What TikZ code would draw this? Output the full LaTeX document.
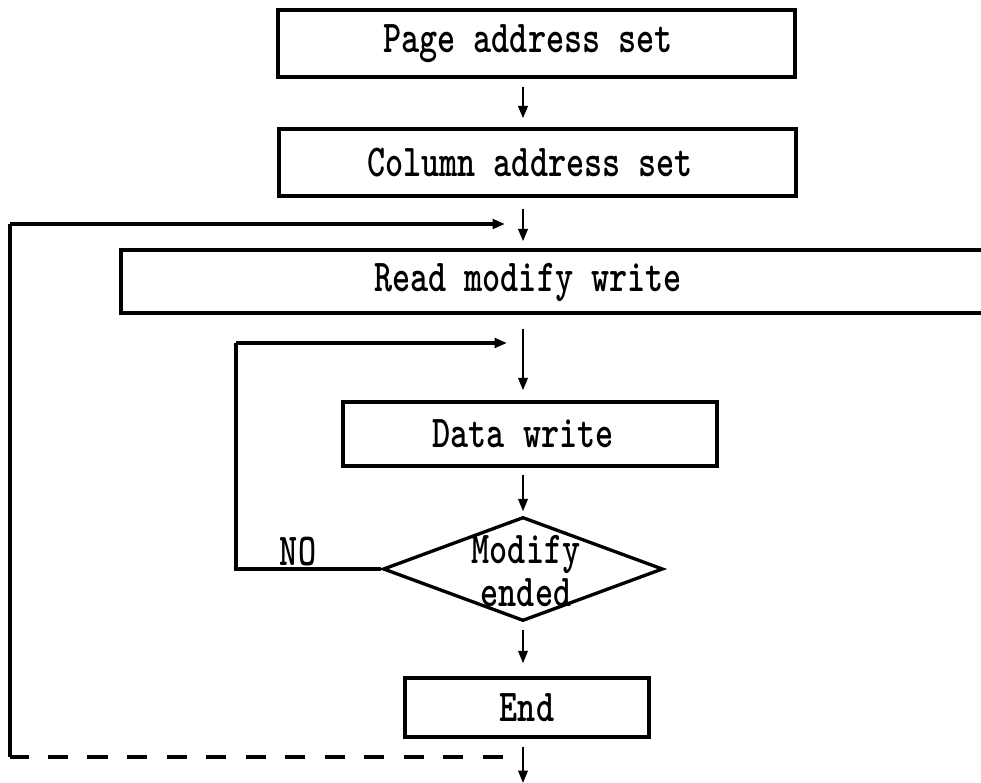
\documentclass[tikz,border=0pt]{standalone}
\usepackage{graphicx}
\usetikzlibrary{shapes.geometric,arrows.meta}

% condensed typewriter lettering used throughout the flowchart
\newcommand\cx[1]{\scalebox{0.755}[1]{#1}}

\tikzset{
  txt/.style={font=\fontsize{26}{24}\selectfont\ttfamily\bfseries, inner sep=0pt},
  box/.style={draw, line width=2pt, rectangle, inner sep=0pt, txt},
  decbox/.style={draw, line width=1.9pt, diamond, inner sep=0pt},
  flow/.style={line width=1.4pt, -{Triangle[length=7pt,width=5.4pt]}},
  thinflow/.style={line width=1.1pt, -{Triangle[length=7pt,width=5.4pt]}},
  loopline/.style={line width=1.8pt},
}

\begin{document}
\begin{tikzpicture}[x=0.02cm, y=-0.02cm]
  \useasboundingbox (0,0) rectangle (981,783);

  % process boxes
  \node[box, minimum width=10.34cm, minimum height=1.34cm] (page) at (536.5,43.5) {};
  \node[txt] (pagetext) at (528,44) {\cx{Page address set}};
  \node[box, minimum width=10.34cm, minimum height=1.34cm] (col) at (537.5,162.5) {};
  \node[txt] (coltext) at (530,163) {\cx{Column address set}};
  \node[box, minimum width=17.58cm, minimum height=1.26cm] (rmw) at (560.5,281.5) {};
  \node[txt] (rmwtext) at (528,282) {\cx{Read modify write}};
  \node[box, minimum width=7.48cm, minimum height=1.28cm] (data) at (530,434) {};
  \node[txt] (datatext) at (523,434) {\cx{Data write}};

  % decision
  \node[decbox, minimum width=5.6cm, minimum height=2.08cm] (dec) at (523,569) {};
  \node[txt, align=center] (dectext) at (526,571) {\cx{Modify}\\\cx{ended}};
  \node[txt] (nolbl) at (298,552) {\cx{NO}};

  \node[box, minimum width=4.88cm, minimum height=1.18cm] (fin) at (527,707.5) {\cx{End}};

  % loop corners and free ends
  \coordinate (outerTop) at (10,224);
  \coordinate (outerBot) at (10,757);
  \coordinate (outerIn) at (505,224);
  \coordinate (dashEnd) at (503,757);
  \coordinate (innerTop) at (236,343);
  \coordinate (innerIn) at (507,343);
  \coordinate (exitEnd) at (523,783);

  % main vertical flow
  \draw[flow, shorten <=4.5pt, shorten >=5.1pt] (page.south -| dec.north) -- (col.north -| dec.north);
  \draw[flow, shorten <=6.2pt, shorten >=4pt] (col.south -| dec.north) -- (rmw.north -| dec.north);
  \draw[thinflow, shorten <=7.9pt, shorten >=5.7pt] (rmw.south -| dec.north) -- (data.north -| dec.north);
  \draw[thinflow, shorten <=4pt, shorten >=2.3pt] (data.south -| dec.north) -- (dec.north);
  \draw[thinflow, shorten <=4pt, shorten >=7.4pt] (dec.south) -- (fin.north -| dec.south);
  \draw[thinflow, shorten <=4.5pt] (fin.south -| dec.south) -- (exitEnd);

  % inner loop: NO branch back above Data write
  \draw[loopline] (dec.west) -- (dec.west -| innerTop) -- (innerTop);
  \draw[flow, line width=1.8pt] (innerTop) -- (innerIn);

  % outer loop: dashed return to Read modify write
  \draw[loopline, dash pattern=on 11.5pt off 11pt] (dashEnd) -- (outerBot);
  \draw[loopline] (outerBot) -- (outerTop);
  \draw[flow, line width=1.8pt] (outerTop) -- (outerIn);
\end{tikzpicture}
\end{document}
